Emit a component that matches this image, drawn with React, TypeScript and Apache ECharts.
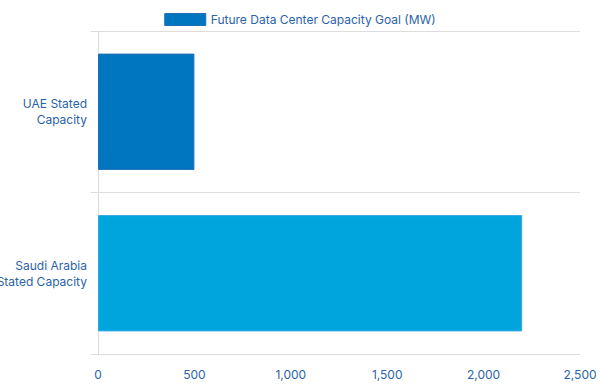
import React, { useEffect, useRef } from "react";
import * as echarts from "echarts";

const categories = ["Saudi Arabia\nStated Capacity", "UAE Stated\nCapacity"];
const values = [2200, 500];
const barColors = ["#00A5DE", "#0075C0"];
const seriesName = "Future Data Center Capacity Goal (MW)";
const textColor = "#2B63A8";

export default function App() {
  const ref = useRef<HTMLDivElement>(null);
  useEffect(() => {
    const chart = echarts.init(ref.current!, null, { renderer: "svg" });
    chart.setOption({
      animation: false,
      textStyle: { fontFamily: "Inter" },
      legend: {
        top: 8,
        left: "center",
        itemWidth: 41,
        itemHeight: 12,
        itemGap: 6,
        textStyle: { color: textColor, fontSize: 12, fontFamily: "Inter" },
        data: [{ name: seriesName, icon: "rect", itemStyle: { color: "#0075C0", borderColor: "#1A6FB5", borderWidth: 1 } }],
      },
      grid: { left: 98, right: 20, top: 31, bottom: 30, containLabel: false, outerBoundsMode: "none" },
      xAxis: {
        type: "value",
        min: 0,
        max: 2500,
        interval: 500,
        axisLine: { show: false },
        axisTick: { show: false },
        splitLine: { show: false },
        axisLabel: {
          color: textColor,
          fontSize: 12,
          margin: 14,
          formatter: (v: number) => v.toLocaleString("en-US"),
        },
      },
      yAxis: {
        type: "category",
        data: categories,
        axisLine: { show: true, lineStyle: { color: "#DDDDDD" } },
        axisTick: { show: true, length: 7, lineStyle: { color: "#DDDDDD" } },
        splitLine: { show: true, lineStyle: { color: "#DDDDDD" } },
        axisLabel: { color: textColor, fontSize: 12, lineHeight: 16, margin: 11, align: "right" },
      },
      series: [
        {
          name: seriesName,
          type: "bar",
          barWidth: "72%",
          data: values.map((v, i) => ({
            value: v,
            itemStyle: { color: barColors[i], borderColor: i === 0 ? "#2FA9E0" : "#1A6FB5", borderWidth: 1 },
          })),
        },
      ],
    });
    return () => chart.dispose();
  }, []);
  return <div ref={ref} style={{ position: "absolute", left: 0, top: 0, width: 600, height: 384 }} />;
}
